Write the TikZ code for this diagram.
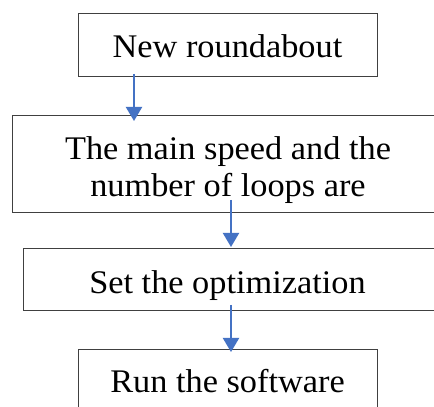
\documentclass[tikz,border=0pt]{standalone}
\usepackage{fontspec}
\setmainfont[FakeStretch=1.04]{Liberation Serif}
\usetikzlibrary{arrows.meta}
\definecolor{arrowblue}{HTML}{4472C4}
\definecolor{boxline}{HTML}{404040}
\tikzset{
  flowbox/.style={draw=boxline, line width=0.9pt, rectangle, inner sep=0pt, outer sep=0pt},
  boxtext/.style={anchor=base, inner sep=0pt, font=\fontsize{33}{40}\selectfont},
  flowarrow/.style={draw=arrowblue, line width=2pt, -{Triangle[width=16pt,length=14pt]}}
}
\begin{document}
\begin{tikzpicture}[x=1pt,y=1pt]
\useasboundingbox (0,0) rectangle (434,407);
\clip (0,0) rectangle (434,407);
\fill[white] (0,0) rectangle (434,407);
% boxes
\node[flowbox, minimum width=299pt, minimum height=63pt] (b1) at (227.5,362.5) {};
\node[flowbox, minimum width=440pt, minimum height=97pt] (b2) at (232,243.5) {};
\node[flowbox, minimum width=430pt, minimum height=62pt] (b3) at (238,128) {};
\node[flowbox, minimum width=299pt, minimum height=71pt] (b4) at (227.5,22.5) {};
% texts
\node[boxtext] (t1) at (227.5,349) {New roundabout};
\node[boxtext] (t2a) at (228,247) {The main speed and the};
\node[boxtext] (t2b) at (228,210) {number of loops are};
\node[boxtext] (t3) at (227.5,113) {Set the optimization};
\node[boxtext] (t4) at (227.5,14) {Run the software};
% arrows
\coordinate (a1s) at (134,333);
\coordinate (a1e) at (134,286);
\coordinate (a2s) at (231,207);
\coordinate (a2e) at (231,160);
\coordinate (a3s) at (231,102);
\coordinate (a3e) at (231,55);
\draw[flowarrow] (a1s) -- (a1e);
\draw[flowarrow] (a2s) -- (a2e);
\draw[flowarrow] (a3s) -- (a3e);
\end{tikzpicture}
\end{document}
